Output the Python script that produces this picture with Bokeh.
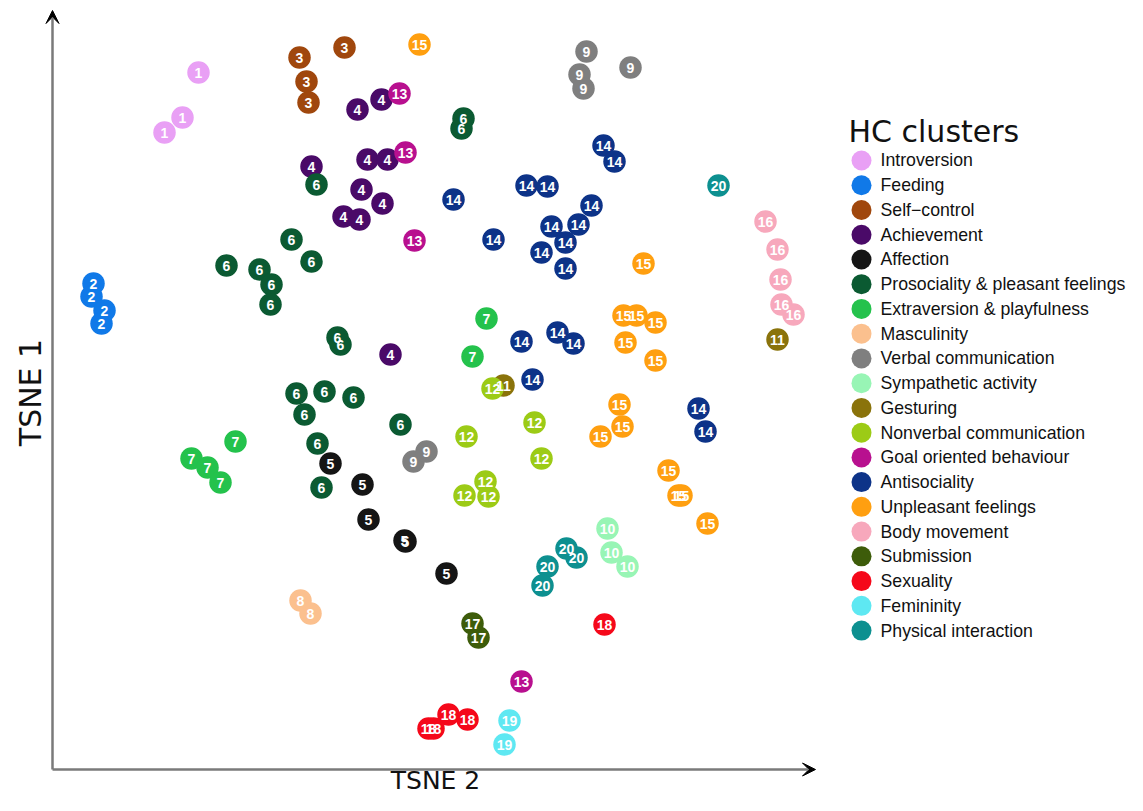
import math
from bokeh.plotting import figure
from bokeh.models import ColumnDataSource, Range1d, Arrow, VeeHead, Label
from bokeh.layouts import row
from bokeh.core.properties import value
from bokeh.embed import file_html
from bokeh.resources import INLINE

# ---------------- data ----------------
cluster_names = [
    "Introversion", "Feeding", "Self\u2212control", "Achievement", "Affection",
    "Prosociality & pleasant feelings", "Extraversion & playfulness", "Masculinity",
    "Verbal communication", "Sympathetic activity", "Gesturing",
    "Nonverbal communication", "Goal oriented behaviour", "Antisociality",
    "Unpleasant feelings", "Body movement", "Submission", "Sexuality",
    "Femininity", "Physical interaction",
]
cluster_colors = [
    "#E9A0F5", "#1079E8", "#A0470D", "#4A0A68", "#151515",
    "#0B5A32", "#24C24C", "#FBC08E", "#7F7F7F", "#98F5B5",
    "#8A730B", "#9CCB16", "#B8108F", "#0D3388", "#FF9F10",
    "#F7A8BC", "#3D5C0A", "#F5081A", "#5EE8F2", "#0D9090",
]

# cluster id of each word, and its t-SNE coordinates
point_cluster = (
    [1] * 3 + [2] * 4 + [3] * 4 + [4] * 10 + [5] * 6 + [6] * 18 + [7] * 6
    + [8] * 2 + [9] * 6 + [10] * 3 + [11] * 2 + [12] * 7 + [13] * 4
    + [14] * 18 + [15] * 14 + [16] * 5 + [17] * 2 + [18] * 5 + [19] * 2 + [20] * 5
)
tsne2 = [
    -23.2, -24.8, -26.6,
    -33.7, -33.9, -32.6, -32.9,
    -13.1, -8.6, -12.4, -12.2,
    -7.3, -4.9, -6.3, -4.3, -11.9, -6.9, -4.8, -8.7, -7.1, -4.0,
    -10.0, -6.8, -6.2, -2.6, -2.5, 1.6,
    -11.4, 3.3, 3.1, -13.9, -11.9, -20.4, -17.1, -15.9, -16.0, -9.3, -9.0,
    -13.4, -10.6, -7.7, -12.6, -3.0, -11.3, -10.9,
    5.6, 4.2, -19.5, -23.9, -22.3, -21.0,
    -13.0, -12.0,
    15.6, 20.0, 14.9, 15.3, -1.7, -0.4,
    17.7, 18.1, 19.7,
    34.7, 7.3,
    6.2, 3.6, 10.4, 11.1, 5.5, 3.4, 5.8,
    -3.1, -2.5, -1.6, 9.1,
    17.3, 18.4, 9.6, 11.7, 2.3, 16.1, 14.8, 12.1, 13.5, 6.3, 11.1, 13.5,
    9.1, 12.7, 14.3, 10.2, 26.8, 27.5,
    -1.1, 21.3, 19.3, 20.6, 22.5, 19.5, 22.5, 18.9, 19.2, 17.0, 23.8, 24.8, 25.1, 27.7,
    33.5, 34.7, 35.0, 35.1, 36.3,
    4.2, 4.8,
    17.4, 1.8, 3.7, -0.2, 0.3,
    7.9, 7.4,
    28.8, 13.6, 14.6, 11.7, 11.2,
]
tsne1 = [
    34.8, 30.3, 28.8,
    13.7, 12.4, 11.0, 9.7,
    36.3, 37.3, 33.9, 31.8,
    31.1, 32.1, 26.1, 26.1, 25.4, 23.1, 21.7, 20.4, 20.1, 6.6,
    -4.3, -6.4, -9.9, -12.0, -12.1, -15.3,
    23.6, 30.2, 29.2, 18.1, 15.9, 15.5, 15.1, 13.6, 11.6, 8.3, 7.6,
    2.7, 2.9, 2.3, 0.6, -0.4, -2.3, -6.7,
    10.2, 6.4, -2.1, -3.8, -4.7, -6.2,
    -18.0, -19.3,
    36.9, 35.3, 34.6, 33.2, -4.1, -3.1,
    -10.8, -13.2, -14.6,
    8.1, 3.5,
    3.2, -1.6, -0.2, -3.8, -6.1, -7.5, -7.6,
    32.7, 26.8, 18.0, -26.1,
    27.5, 25.9, 23.5, 23.4, 22.1, 21.5, 19.6, 19.4, 17.8, 18.1, 16.8, 15.2,
    7.9, 8.8, 7.7, 4.1, 1.2, -1.1,
    37.6, 15.7, 10.5, 10.5, 9.8, 7.8, 6.0, 1.6, -0.6, -1.6, -5.0, -7.5, -7.5, -10.3,
    19.9, 17.1, 14.1, 11.6, 10.6,
    -20.3, -21.7,
    -20.4, -29.4, -29.9, -30.8, -30.8,
    -30.0, -32.4,
    23.5, -12.8, -13.7, -14.6, -16.5,
]

# ---------------- main scatter ----------------
src = ColumnDataSource(dict(
    x=tsne2,
    y=tsne1,
    label=[str(c) for c in point_cluster],
    color=[cluster_colors[c - 1] for c in point_cluster],
))

p = figure(
    width=830, height=795,
    x_range=Range1d(-43.0, 40.0), y_range=Range1d(-37.5, 42.0),
    output_backend="svg", toolbar_location=None,
    x_axis_location=None, y_axis_location=None,
    min_border=0, min_border_left=0, min_border_right=0,
    min_border_top=0, min_border_bottom=0,
)
p.grid.visible = False
p.outline_line_color = None
p.background_fill_color = "white"
p.border_fill_color = "white"

p.scatter("x", "y", source=src, size=22.5, fill_color="color", line_color=None)
p.text("x", "y", text="label", source=src, text_color="white",
       text_font=value("Liberation Sans"), text_font_size="14px",
       text_font_style="bold", text_align="center", text_baseline="middle")

# axes drawn as arrows
ax0_x, ax0_y = -37.8, -34.9
p.add_layout(Arrow(end=VeeHead(size=13, fill_color="black", line_color="black"),
                   x_start=ax0_x, y_start=ax0_y, x_end=ax0_x, y_end=41.0,
                   line_color="#7a7a7a", line_width=2.5))
p.add_layout(Arrow(end=VeeHead(size=13, fill_color="black", line_color="black"),
                   x_start=ax0_x, y_start=ax0_y, x_end=38.5, y_end=ax0_y,
                   line_color="#7a7a7a", line_width=2.5))

p.add_layout(Label(x=-40.0, y=2.8, text="TSNE 1", angle=math.pi / 2,
                   text_align="center", text_baseline="middle",
                   text_font="DejaVu Sans", text_font_size="30px", text_color="#111111"))
p.add_layout(Label(x=0.5, y=-37.45, text="TSNE 2",
                   text_align="center", text_baseline="bottom",
                   text_font="DejaVu Sans", text_font_size="25px", text_color="#111111"))

# ---------------- legend panel ----------------
n = len(cluster_names)
leg_src = ColumnDataSource(dict(
    x=[31] * n,
    tx=[50] * n,
    y=[-i for i in range(n)],
    name=cluster_names,
    color=cluster_colors,
))
lg = figure(
    width=297, height=795,
    x_range=Range1d(0, 297), y_range=Range1d(-25.667, 6.467),
    output_backend="svg", toolbar_location=None,
    x_axis_location=None, y_axis_location=None,
    min_border=0, min_border_left=0, min_border_right=0,
    min_border_top=0, min_border_bottom=0,
)
lg.grid.visible = False
lg.outline_line_color = None
lg.scatter("x", "y", source=leg_src, size=20, fill_color="color", line_color=None)
lg.text("tx", "y", text="name", source=leg_src, text_color="#111111",
        text_font=value("Liberation Sans"), text_font_size="17.7px",
        text_align="left", text_baseline="middle")
lg.add_layout(Label(x=18, y=1.17, text="HC clusters", text_align="left",
                    text_baseline="middle", text_font="DejaVu Sans",
                    text_font_size="30px", text_color="#111111"))

layout = row(p, lg)
open("out.html", "w").write(file_html(layout, INLINE))
